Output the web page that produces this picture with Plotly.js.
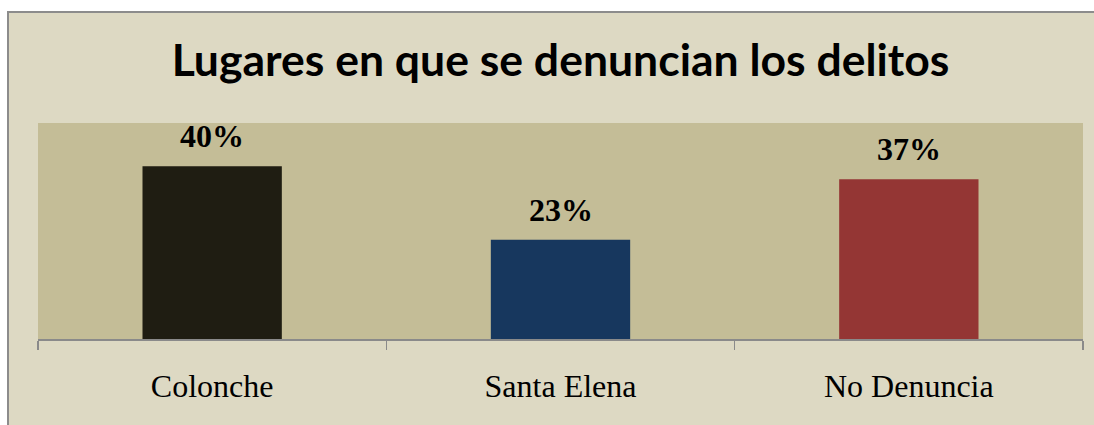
<!DOCTYPE html>
<html>
<head>
<meta charset="utf-8">
<script src="https://cdn.plot.ly/plotly-3.0.1.min.js"></script>
<style>
  html, body { margin: 0; padding: 0; background: #ffffff; width: 1094px; height: 425px; overflow: hidden; }
  #frame { position: absolute; left: 7px; top: 11px; width: 1087px; height: 414px; box-sizing: border-box;
           border-left: 2px solid #8c8c8c; border-top: 2px solid #8c8c8c; background: #DDD9C3; }
  #chart { position: absolute; left: 9px; top: 13px; width: 1080px; height: 412px; }
</style>
</head>
<body>
<div id="frame"></div>
<div id="chart"></div>
<script>
const titleText = "Lugares en que se denuncian los delitos";
const categories = ["Colonche", "Santa Elena", "No Denuncia"];
const values = [40, 23, 37];
const barColors = ["#1F1D12", "#17375E", "#943634"];
const valueLabels = values.map(v => v + "%");

const trace = {
  type: "bar",
  x: categories,
  y: values,
  marker: { color: barColors, line: { width: 0 } },
  hoverinfo: "x+y",
  showlegend: false
};

const annotations = categories.map((c, i) => ({
  x: c, y: values[i], xref: "x", yref: "y",
  text: "<b>" + valueLabels[i] + "</b>",
  showarrow: false, yanchor: "bottom", yshift: 10,
  font: { family: "Liberation Serif, Times New Roman, serif", size: 32, color: "#000000" }
}));

const layout = {
  width: 1080, height: 412,
  margin: { l: 29, r: 6, t: 110, b: 86, pad: 0 },
  paper_bgcolor: "#DDD9C3",
  plot_bgcolor: "#C4BD97",
  title: {
    text: "<b>" + titleText + "</b>",
    font: { family: "Lato, Open Sans, sans-serif", size: 44.5, color: "#000000" },
    xref: "paper", x: 0.5, xanchor: "center",
    yref: "container", y: 0.885, yanchor: "middle"
  },
  bargap: 0.6,
  xaxis: {
    type: "category",
    showline: true, linecolor: "#8a8a8a", linewidth: 1.5,
    ticks: "outside", tickson: "boundaries", ticklen: 9, tickcolor: "#8a8a8a", tickwidth: 1.5,
    tickfont: { family: "Liberation Serif, Times New Roman, serif", size: 32, color: "#000000" },
    ticklabelstandoff: 18,
    showgrid: false, zeroline: false, fixedrange: true
  },
  yaxis: {
    range: [0, 50], visible: false, showgrid: false, zeroline: false, fixedrange: true
  },
  annotations: annotations
};

Plotly.newPlot("chart", [trace], layout, { displayModeBar: false, staticPlot: true });
</script>
</body>
</html>
